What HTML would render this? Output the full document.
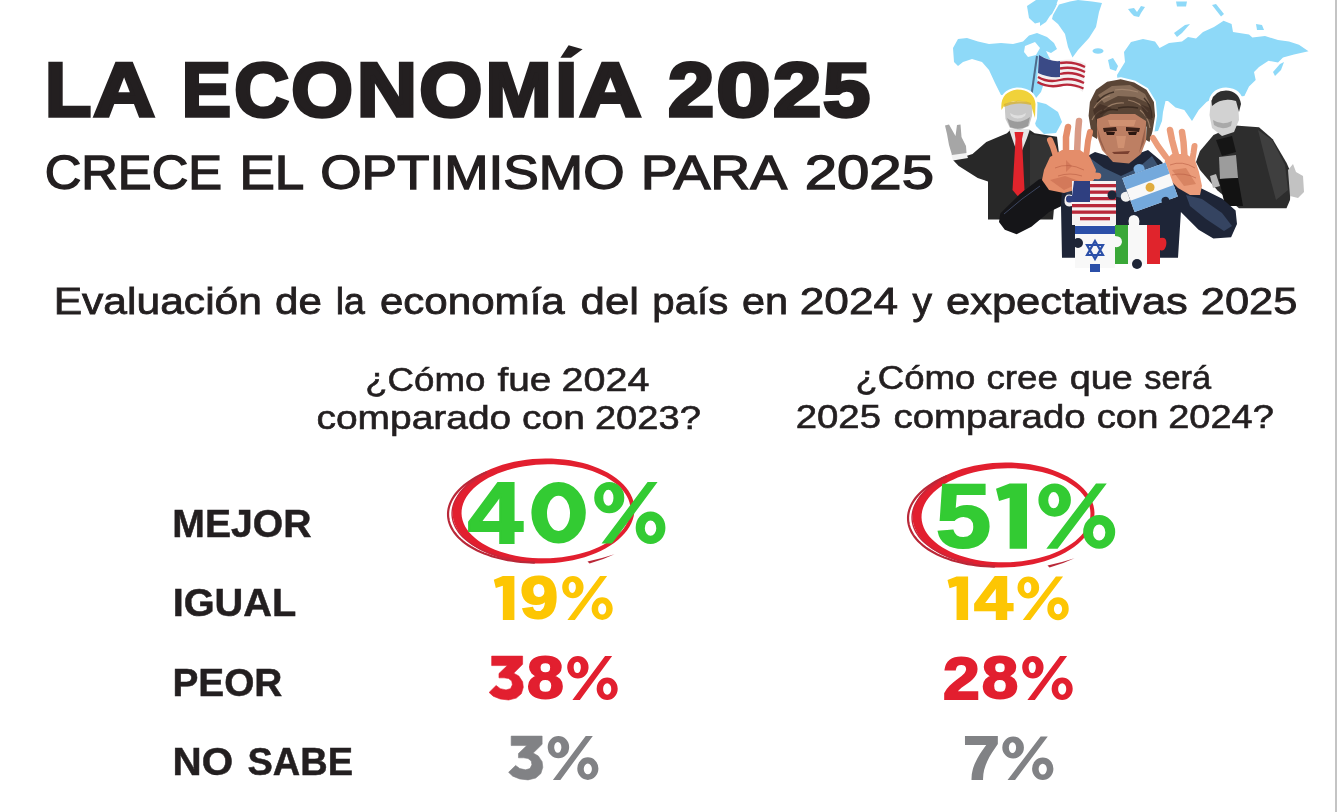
<!DOCTYPE html>
<html><head><meta charset="utf-8"><title>La Economía 2025</title>
<style>
html,body{margin:0;padding:0;background:#fff;}
body{width:1337px;height:812px;overflow:hidden;font-family:"Liberation Sans", sans-serif;}
svg{display:block;will-change:transform;}
</style></head><body>
<svg width="1337" height="812" viewBox="0 0 1337 812" font-family="Liberation Sans, sans-serif">
<rect width="1337" height="812" fill="#fff"/>
<g id="map" fill="#8ed9f8">
<!-- North America -->
<path d="M953,48 L958,39 L967,38 L978,41.5 L989,44 L1001,43 L1013,44 L1023,41.5 L1029,35.5 L1037,33 L1047,37 L1054,43 L1057,49 L1051,53 L1046,51 L1049,57 L1052,62 L1050,70 L1047,78 L1043,86 L1041,92 L1036,98 L1030,103 L1020,100 L1008,96 L1001,95 L995,83 L989,70 L982,62 L972,59 L963,62 L958,66 L954,62 Z"/>
<!-- Arctic islands -->
<path d="M1027,6 L1036,0 L1049,0 L1057,4 L1052,14 L1041,22 L1035,23.5 L1029,18 Z"/>
<path d="M1040,0 L1058,0 L1055,8 L1046,22 L1040,26 Z"/>
<!-- Greenland -->
<path d="M1053,15 L1059,4.5 L1070,1.5 L1078,0 L1092,1.5 L1102,3 L1099,12 L1096,27 L1089,38 L1078,50 L1072.5,57.5 L1068,47 L1065,34 L1058,24 L1052,19 Z"/>
<!-- Iceland -->
<ellipse cx="1098" cy="51" rx="5.5" ry="2.8"/>
<!-- UK -->
<path d="M1108,60 L1113,58 L1118,66 L1116,71 L1110,69 Z"/>
<!-- Small arctic islands -->
<path d="M1128,9 L1134,8 L1137,12 L1141,6 L1145,7 L1141,13 L1139,17 L1134,16 L1131,13 Z"/>
<path d="M1176,1.5 L1187,1.5 L1186,6.5 L1177,6.5 Z"/>
<path d="M1212,5 L1216,4 L1224,14 L1221,16.5 Z"/>
<path d="M1256,24 L1262,25 L1264,30 L1257,30 Z"/>
<path d="M1174,33 L1185,25 L1190,24 L1182,33 L1177,37 Z"/>
<!-- Scandinavia + Eurasia -->
<path d="M1117,75 L1125,62 L1124,52 L1131,42 L1143,39 L1155,41.5 L1159.6,48 L1169,43 L1182,41.6 L1188,37 L1196,38.4 L1203,32 L1214,27 L1223.6,20.8 L1231.6,24 L1233,32 L1249,34.4 L1252.4,37.6 L1265,36 L1278,40 L1289,41.6 L1299,44.8 L1308.5,51.2 L1294,54.4 L1283,57.6 L1278,62.4 L1268.5,60.8 L1259,67 L1254,72 L1255.7,80 L1249,86.4 L1244.4,96 L1230,98 L1210,100 L1206.5,102 L1198.7,110 L1192,121 L1184.3,110 L1175.5,107.6 L1168,101 L1165.5,101 L1163,112 L1162,121 L1158,131 L1150,132 L1145,104 L1140,96 L1125,90 L1118,84 Z"/>
<!-- Japan -->
<path d="M1273,72 L1280,64 L1284,62 L1281,70 L1275,76 Z"/>
<!-- Africa visible bit right of Milei head -->
<!-- South America / Caribbean bits near Trump -->
<path d="M1030,100 L1046,104 L1058,112 L1062,122 L1056,133 L1044,134 L1036,126 L1032,114 Z"/>
</g>
<path fill="#fff" d="M1025,46 L1035,42 L1040,48 L1036,55 L1028,57 L1024,52 Z"/>

<!-- US flag on pole -->
<g id="usflag">
<path d="M1037,56 L1031,98" stroke="#4f6c8c" stroke-width="2" fill="none"/>
<path fill="#f4f0f0" d="M1039,55 Q1050,62 1062,60 Q1075,58 1086,64 L1083,92 Q1072,84 1060,86 Q1047,88 1037,80 Z"/>
<g fill="none" stroke="#b8283a" stroke-width="2.3">
<path d="M1060,63 Q1073,61 1085,67"/>
<path d="M1060,68.5 Q1073,66 1085,72"/>
<path d="M1060,74 Q1072,71 1084.5,77"/>
<path d="M1038,77 Q1048,83 1060,80 Q1072,77 1084,83"/>
<path d="M1037.5,82 Q1048,88 1060,85.5 Q1071,83 1083.5,88.5"/>
</g>
<path fill="#3a4a86" d="M1039,55 Q1050,62 1060,61 L1060,77 Q1048,78 1038,73 Z"/>
</g>

<!-- Trump -->
<g id="trump">
<path fill="#fff" stroke="#fff" stroke-width="4" stroke-linejoin="round" d="M1001.5,110 Q999.5,92 1017,89.5 Q1034,90 1035.5,104 L1035,118 L1032,126 L1029,131 L1010,131 L1004,122 Z"/>
<path fill="#282828" d="M967,155.7 L972.5,154 L986.3,141.9 L1007,133.3 L1010.4,129.8 L1029.4,129.8 L1034.6,133.3 L1057,136.7 L1059,154 L1056,185 L1053,219.5 L988,219.5 L988,181.6 L977.7,178.1 L958.7,166 L953,160 Z"/>
<path fill="#3a3a3a" d="M1030,134 L1050,138 L1052,170 L1040,200 L1030,190 Z" opacity="0.6"/>
<!-- shirt -->
<path fill="#e6e6e6" d="M1009,129 L1030,129 L1027,138 L1019,158 L1012,138 Z"/>
<!-- tie -->
<path fill="#e0242c" d="M1014.5,132 L1023.5,132 L1022,139 L1024.5,190 L1018.5,197 L1012.5,190 L1015.5,139 Z"/>
<!-- cuff and hand -->
<path fill="#f2f2f2" d="M951,154 L966,152.5 L968,158 L953,160.5 Z"/>
<path fill="#a6a6a6" d="M945,125.5 L949,124.5 L955.5,136 L957,125 L960.5,124.5 L961.5,137 L966,146 L966.5,153 L952,155 L949,145 L947,134 Z"/>
<!-- face -->
<path fill="#c9c9c9" d="M1004.5,102 L1032.5,102 L1032,116 L1029,126 L1020,130 L1010,128 L1005.5,119 Z"/>
<path fill="#7d7d7d" d="M1007,118 Q1018,126 1030,117 L1028,126 Q1019,131 1010,127 Z" opacity="0.6"/>
<path fill="#e8e8e8" d="M1010,113 Q1018,118 1026,113 L1025,116 Q1018,121 1011,116 Z" opacity="0.7"/>
<!-- hat -->
<path fill="#f0d23a" d="M1001.5,110 Q999.5,92 1017,89.5 Q1034,90 1035.5,104 L1035,118 L1032.5,110 L1031,104 Q1026,101 1018,101 Q1008,101 1004,106 Z"/>
<path fill="#d8b020" d="M1004,104 Q1018,98 1031,103 L1031,105 Q1018,101 1004,107 Z" opacity="0.7"/>
</g>

<!-- Musk -->
<g id="musk">
<path fill="#fff" stroke="#fff" stroke-width="4" stroke-linejoin="round" d="M1211,100 Q1214,90 1226,89.5 Q1240,90 1242,104 L1240,120 L1245,126 L1214,136 L1209.5,115 Z"/>
<path fill="#2d2d2d" d="M1213.5,135 L1235,125.4 L1259,127.3 L1272.7,139.2 L1286.5,162.8 L1291,173 L1290,200 L1286.5,208.2 L1239,208.2 L1217.5,190.4 L1200,170 L1196,162 L1200,151 Z"/>
<path fill="#474747" d="M1258,130 L1272,140 L1285,165 L1288,190 L1276,200 L1268,170 Z" opacity="0.7"/>
<path fill="#9c9c9c" d="M1219,157 L1236,155 L1238,178 L1220,179 Z"/>
<path fill="#121212" d="M1219,179 L1238,178 L1243,206 L1225,206 Z"/>
<path fill="#151515" d="M1216,140 L1232,136 L1236,152 L1222,156 Z"/>
<path fill="#c2c2c2" d="M1288,170 L1293,164 L1296,172 L1303,176 L1304,192 L1298,198 L1290,196 Z"/>
<path fill="#b8b8b8" d="M1210,176 L1216,174 L1220,186 L1213,188 Z"/>
<!-- face -->
<path fill="#d2d2d2" d="M1211,100 L1238,100 L1239,120 L1234,132 L1222,136 L1212,128 L1209.5,115 Z"/>
<path fill="#8e8e8e" d="M1213,120 Q1222,126 1232,121 L1231,126 Q1222,131 1214,125 Z" opacity="0.6"/>
<path fill="#2f2f2f" d="M1211.5,101 Q1214,91 1226,90.5 Q1239,91 1241,104 L1239,112 L1236,101 Q1222,97 1212,106 Z"/>
</g>

<!-- Milei -->
<g id="milei">
<!-- body jacket -->
<path fill="#1e2537" d="M1045,178 L1062,170 L1080,160 L1095,152 L1121,160 L1148,150 L1160,160 L1175,175 L1198.6,187 L1222.3,198.8 L1235.6,210.6 L1237,223.9 L1231.1,237.2 L1213.4,238.6 L1198.6,229.8 L1180.9,212 L1178,257.8 L1062,257.8 L1061,206.2 L1061,190 Z"/>
<!-- left sleeve -->
<path fill="#151518" d="M1000.3,213.5 L1019.6,194.3 L1038.8,179.6 L1048,177 L1062,188 L1061,206.2 L1049.1,212 L1031.4,226.8 L1016.6,234.2 L1004.8,229.8 L999,222 Z"/>
<path fill="none" stroke="#3c4660" stroke-width="1" d="M1004,214 L1022,199 L1040,186"/>
<!-- shirt -->
<path fill="#3e5878" d="M1090,158 L1104,168 L1121,176 L1138,168 L1152,156 L1162,172 L1152,190 L1121,198 L1094,190 L1084,172 Z" opacity="0.9"/>
<!-- right sleeve highlights -->
<path fill="#3a4a68" d="M1186,195 L1202,199 L1222,213 L1232,226 L1224,231 L1206,219 L1190,206 Z" opacity="0.85"/>
<path fill="#34405a" d="M1070,175 L1085,185 L1080,200 L1066,195 Z" opacity="0.7"/>
<!-- hair -->
<path fill="#fff" stroke="#fff" stroke-width="4" stroke-linejoin="round" d="M1088.6,115.7 L1089.9,102.1 L1096,89.8 L1107.1,81.8 L1120.7,79.3 L1134.2,82.4 L1146.5,89.8 L1153.9,102.1 L1155.1,115.7 L1152.7,130.4 L1149,141.5 L1098,141 Z"/>
<path fill="#5a4536" d="M1088.6,115.7 L1089.9,102.1 L1096,89.8 L1107.1,81.8 L1120.7,79.3 L1134.2,82.4 L1146.5,89.8 L1153.9,102.1 L1155.1,115.7 L1152.7,130.4 L1149.5,142 L1146,140 L1146.5,126.7 L1136.7,119.3 L1123.1,117.5 L1110.8,120.6 L1098.5,128 L1097,139 L1092,136 Z"/>
<path fill="#9a7f68" d="M1098,95 L1112,86 L1130,85 L1145,94 L1150,104 L1135,97 L1118,96 L1104,103 Z" opacity="0.7"/>
<path fill="none" stroke="#a88a72" stroke-width="1.2" opacity="0.8" d="M1094,108 Q1100,98 1110,96 M1104,110 Q1112,102 1124,103 M1128,100 Q1140,102 1148,112 M1115,90 Q1125,88 1138,92 M1092,120 Q1096,112 1102,110 M1140,110 Q1148,116 1150,128"/>
<path fill="none" stroke="#33241b" stroke-width="1.3" opacity="0.8" d="M1097,102 Q1104,94 1114,92 M1118,108 Q1128,106 1138,108 M1100,114 Q1108,108 1118,110 M1144,98 Q1152,106 1152,118"/>
<path fill="#3e2c22" d="M1093,110 L1100,104 L1112,108 L1104,114 L1097,124 Z M1140,104 L1150,108 L1152,120 L1146,118 Z" opacity="0.7"/>
<!-- face -->
<path fill="#bd7f63" d="M1097,119 L1110,114 L1135,114 L1146,121 L1146,141 L1141,154 L1129,163.6 L1113,162 L1102,150 L1097,136 Z"/>
<path fill="#8d5744" d="M1097,126 L1101,140 L1106,152 L1113,160 L1104,150 L1099,140 Z M1146,124 L1144,142 L1139,153 L1142,140 Z" opacity="0.8"/>
<path fill="#d89878" d="M1116,136 L1126,136 L1124,148 L1118,148 Z M1108,120 L1136,120 L1134,126 L1110,126 Z" opacity="0.7"/>
<path fill="#3a2018" d="M1103,128 L1116,127 L1117,131 L1104,132 Z M1126,127 L1140,128 L1139,132 L1126,131 Z"/>
<path fill="#2a1610" d="M1106,132 L1115,132 L1114,135 L1107,135 Z M1128,132 L1137,132 L1136,135 L1129,135 Z"/>
<path fill="#7a4030" d="M1112,152 L1130,151 L1128,154 L1114,154 Z"/>
<!-- left hand -->
<g stroke="#e48d6a" stroke-linecap="round" fill="none">
<path stroke-width="6" d="M1057,160 L1053,147 L1050,140"/>
<path stroke-width="6.5" d="M1066,154 L1066,137 L1068,127"/>
<path stroke-width="6.5" stroke="#d99a86" d="M1077,154 L1078,132 L1079,121"/>
<path stroke-width="6" d="M1086,158 L1088,141 L1090,132"/>
<path stroke-width="6.5" d="M1084,173 L1092,175.5 L1098,176"/>
</g>
<path fill="#e48d6a" d="M1044,170 L1050,157 L1062,150 L1080,150 L1090,157 L1096,170 L1094,180 L1082,188 L1064,193 L1049,190 L1042,180 Z"/>
<path fill="#c46a4c" d="M1050,180 L1065,176 L1082,182 L1064,190 Z M1066,160 L1072,166 L1066,172 Z" opacity="0.55"/>
<path fill="none" stroke="#b55a40" stroke-width="0.8" d="M1055,168 Q1068,162 1084,170 M1058,176 Q1070,172 1082,176" opacity="0.7"/>
<!-- right hand -->
<g stroke="#eb9c7a" stroke-linecap="round" fill="none">
<path stroke-width="6" d="M1166,157 L1158,146 L1153,138"/>
<path stroke-width="6.5" d="M1176,155 L1172,140 L1170,130"/>
<path stroke-width="6.5" d="M1184.5,157 L1183.5,142 L1182,132"/>
<path stroke-width="6" d="M1192,162 L1193.5,153 L1194.5,146"/>
</g>
<path fill="#eb9c7a" d="M1165,160 L1172,154 L1186,154 L1195,160 L1199,172 L1202,186 L1200,195 L1190,195 L1178,188 L1168,178 L1164,168 Z"/>
<path fill="#c8714f" d="M1172,170 L1186,168 L1196,184 L1184,186 Z" opacity="0.55"/>
<path fill="none" stroke="#b55a40" stroke-width="0.8" d="M1170,165 Q1182,160 1195,168 M1172,175 Q1184,172 1196,178" opacity="0.7"/>
</g>

<!-- puzzle pieces -->
<g id="puzzles">
<!-- USA -->
<path fill="#f6f2f2" d="M1072,181 L1116,181 L1116,225 L1072,225 L1072,206 Q1064,208 1064.5,200 Q1065,193 1072,195 Z"/>
<g fill="#b8283a">
<rect x="1090" y="184" width="26" height="3.3"/>
<rect x="1090" y="190.5" width="26" height="3.3"/>
<rect x="1090" y="197" width="26" height="3.3"/>
<rect x="1072" y="204" width="44" height="3.3"/>
<rect x="1072" y="210.5" width="44" height="3.3"/>
<rect x="1080" y="217" width="30" height="3.3"/>
</g>
<path fill="#2f3f80" d="M1074,181 L1090,181 L1090,202 L1072,202 Q1066,204 1066,199 Q1066,194 1072,196 Z"/>
<circle cx="1112" cy="195" r="4.5" fill="#1e2537"/>
<!-- Argentina -->
<g transform="rotate(-20 1151 187)">
<path fill="#f8f8f8" d="M1127,169 L1173,169 L1173,205 L1127,205 Z"/>
<path fill="#74a9dc" d="M1127,169 L1173,169 L1173,181 L1127,181 Z M1127,193 L1173,193 L1173,205 L1127,205 Z"/>
<circle cx="1150" cy="187" r="4.5" fill="#e0ac3e"/>
<path fill="#74a9dc" d="M1141,169 Q1139,161 1146,161 Q1153,162 1151,169 Z"/>
<path fill="#f2f2f2" d="M1127,183 Q1119,181 1119,188 Q1120,194 1127,192 Z"/>
<circle cx="1160" cy="205" r="4" fill="#1e2537"/>
</g>
<!-- Israel -->
<path fill="#f8f8f8" d="M1075,225 L1115,225 L1115,268 L1075,268 Z"/>
<rect x="1075" y="226" width="40" height="8" fill="#2b4fa8"/>
<path fill="none" stroke="#2b4fa8" stroke-width="2.2" d="M1095,241 L1103,255 L1087,255 Z M1095,259 L1087,245 L1103,245 Z"/>
<rect x="1090" y="264" width="10" height="8" fill="#2b4fa8"/>
<circle cx="1078" cy="243" r="5" fill="#1e2537"/>
<!-- Italy -->
<path fill="#f8f8f8" d="M1115,225 L1160,225 L1160,264 L1115,264 Z"/>
<path fill="#f8f8f8" d="M1129,225 Q1127,215 1134,215 Q1141,216 1139,225 Z"/>
<path fill="#3aa838" d="M1115,225 L1128,225 L1128,264 L1115,264 Z"/>
<path fill="#e0242c" d="M1147,225 L1160,225 L1160,238 Q1168,236 1166,246 Q1164,252 1160,250 L1160,264 L1147,264 Z"/>
<circle cx="1137" cy="264" r="5" fill="#1e2537"/>
<path fill="#f8f8f8" d="M1115,236 Q1122,236 1122,242 Q1121,248 1115,247 Z"/>
</g>

<g transform="translate(543.5 511)"><path fill="#e21f2f" fill-rule="evenodd" d="M90.97,-2.38 L90.84,1.28 L90.27,4.95 L89.27,8.58 L87.82,12.18 L85.95,15.71 L83.66,19.17 L80.97,22.54 L77.87,25.79 L74.40,28.92 L70.57,31.91 L66.39,34.74 L61.89,37.41 L57.09,39.89 L52.01,42.18 L46.67,44.26 L41.11,46.13 L35.35,47.77 L29.42,49.18 L23.34,50.35 L17.15,51.27 L10.88,51.95 L4.55,52.37 L-1.80,52.53 L-8.14,52.44 L-14.44,52.10 L-20.67,51.50 L-26.80,50.65 L-32.80,49.55 L-38.64,48.21 L-44.29,46.64 L-49.73,44.84 L-54.92,42.82 L-59.85,40.60 L-64.48,38.17 L-68.80,35.56 L-72.79,32.78 L-76.42,29.83 L-79.68,26.74 L-82.55,23.52 L-85.01,20.19 L-87.07,16.76 L-88.70,13.24 L-89.89,9.66 L-90.65,6.04 L-90.97,2.38 L-90.84,-1.28 L-90.27,-4.95 L-89.27,-8.58 L-87.82,-12.18 L-85.95,-15.71 L-83.66,-19.17 L-80.97,-22.54 L-77.87,-25.79 L-74.40,-28.92 L-70.57,-31.91 L-66.39,-34.74 L-61.89,-37.41 L-57.09,-39.89 L-52.01,-42.18 L-46.67,-44.26 L-41.11,-46.13 L-35.35,-47.77 L-29.42,-49.18 L-23.34,-50.35 L-17.15,-51.27 L-10.88,-51.95 L-4.55,-52.37 L1.80,-52.53 L8.14,-52.44 L14.44,-52.10 L20.67,-51.50 L26.80,-50.65 L32.80,-49.55 L38.64,-48.21 L44.29,-46.64 L49.73,-44.84 L54.92,-42.82 L59.85,-40.60 L64.48,-38.17 L68.80,-35.56 L72.79,-32.78 L76.42,-29.83 L79.68,-26.74 L82.55,-23.52 L85.01,-20.19 L87.07,-16.76 L88.70,-13.24 L89.89,-9.66 L90.65,-6.04 L90.97,-2.38ZM86.97,-1.91 L86.85,1.37 L86.32,4.65 L85.38,7.90 L84.04,11.12 L82.30,14.29 L80.17,17.39 L77.66,20.40 L74.79,23.32 L71.56,26.13 L68.00,28.81 L64.12,31.35 L59.94,33.74 L55.48,35.96 L50.76,38.01 L45.80,39.88 L40.64,41.56 L35.28,43.03 L29.77,44.30 L24.13,45.35 L18.38,46.19 L12.55,46.80 L6.68,47.18 L0.78,47.33 L-5.11,47.26 L-10.96,46.95 L-16.74,46.42 L-22.43,45.67 L-28.00,44.69 L-33.42,43.50 L-38.67,42.10 L-43.72,40.49 L-48.54,38.69 L-53.11,36.70 L-57.41,34.53 L-61.42,32.20 L-65.12,29.71 L-68.48,27.07 L-71.51,24.31 L-74.17,21.43 L-76.46,18.45 L-78.36,15.38 L-79.87,12.23 L-80.98,9.03 L-81.68,5.78 L-81.97,2.51 L-81.85,-0.77 L-81.32,-4.05 L-80.38,-7.30 L-79.04,-10.52 L-77.30,-13.69 L-75.17,-16.79 L-72.66,-19.80 L-69.79,-22.72 L-66.56,-25.53 L-63.00,-28.21 L-59.12,-30.75 L-54.94,-33.14 L-50.48,-35.36 L-45.76,-37.41 L-40.80,-39.28 L-35.64,-40.96 L-30.28,-42.43 L-24.77,-43.70 L-19.13,-44.75 L-13.38,-45.59 L-7.55,-46.20 L-1.68,-46.58 L4.22,-46.73 L10.11,-46.66 L15.96,-46.35 L21.74,-45.82 L27.43,-45.07 L33.00,-44.09 L38.42,-42.90 L43.67,-41.50 L48.72,-39.89 L53.54,-38.09 L58.11,-36.10 L62.41,-33.93 L66.42,-31.60 L70.12,-29.11 L73.48,-26.47 L76.51,-23.71 L79.17,-20.83 L81.46,-17.85 L83.36,-14.78 L84.87,-11.63 L85.98,-8.43 L86.68,-5.18 L86.97,-1.91Z"/><path fill="none" stroke="#b92838" stroke-width="2.2" stroke-linecap="round" d="M-57.47,-38.49 L-61.05,-36.90 L-64.50,-35.22 L-67.80,-33.45 L-70.94,-31.60 L-73.92,-29.67 L-76.74,-27.67 L-79.37,-25.60 L-81.83,-23.47 L-84.10,-21.28 L-86.17,-19.04 L-88.04,-16.74 L-89.71,-14.41 L-91.18,-12.04 L-92.43,-9.64 L-93.47,-7.21 L-94.29,-4.76 L-94.90,-2.30 L-95.29,0.17 L-95.45,2.64 L-95.40,5.11 L-95.12,7.57 L-94.63,10.01 L-93.91,12.43 L-92.98,14.82 L-91.84,17.18 L-90.48,19.50 L-88.91,21.78 L-87.14,24.01 L-85.17,26.18 L-83.00,28.29 L-80.64,30.34 L-78.09,32.32 L-75.37,34.22 L-72.47,36.04 L-69.41,37.78 L-66.18,39.43 L-62.81,40.99 L-59.30,42.46 L-55.65,43.82 L-51.87,45.09 L-47.98,46.24 L-43.98,47.29 L-39.88,48.23 L-35.69,49.06 L-31.43,49.77 L-27.10,50.37 L-22.71,50.84 L-18.27,51.20 L-13.80,51.44 L-9.30,51.56"/><path fill="none" stroke="#c8263a" stroke-width="1.4" stroke-linecap="round" d="M-66.32,-32.26 L-69.37,-30.35 L-72.25,-28.37 L-74.94,-26.31 L-77.46,-24.19 L-79.78,-22.00 L-81.90,-19.75 L-83.83,-17.46 L-85.54,-15.12 L-87.05,-12.74 L-88.34,-10.33 L-89.41,-7.89 L-90.25,-5.43 L-90.88,-2.95 L-91.28,-0.47 L-91.45,2.02 L-91.40,4.50 L-91.12,6.98 L-90.62,9.43 L-89.89,11.87 L-88.94,14.27 L-87.77,16.64 L-86.38,18.98 L-84.78,21.26 L-82.97,23.49 L-80.95,25.66 L-78.73,27.77 L-76.32,29.82 L-73.72,31.78 L-70.94,33.67 L-67.99,35.48 L-64.86,37.20 L-61.58,38.82 L-58.14,40.35 L-54.57,41.78 L-50.86,43.10 L-47.02,44.32 L-43.07,45.43 L-39.02,46.42 L-34.87,47.30 L-30.64,48.06"/><path fill="#b92838" d="M44,50.5 Q58,47.5 71,43.2 Q60,48.5 46,52.5Z"/></g><g transform="translate(1003.5 515)"><path fill="#e21f2f" fill-rule="evenodd" d="M90.97,-2.38 L90.84,1.28 L90.27,4.95 L89.27,8.58 L87.82,12.18 L85.95,15.71 L83.66,19.17 L80.97,22.54 L77.87,25.79 L74.40,28.92 L70.57,31.91 L66.39,34.74 L61.89,37.41 L57.09,39.89 L52.01,42.18 L46.67,44.26 L41.11,46.13 L35.35,47.77 L29.42,49.18 L23.34,50.35 L17.15,51.27 L10.88,51.95 L4.55,52.37 L-1.80,52.53 L-8.14,52.44 L-14.44,52.10 L-20.67,51.50 L-26.80,50.65 L-32.80,49.55 L-38.64,48.21 L-44.29,46.64 L-49.73,44.84 L-54.92,42.82 L-59.85,40.60 L-64.48,38.17 L-68.80,35.56 L-72.79,32.78 L-76.42,29.83 L-79.68,26.74 L-82.55,23.52 L-85.01,20.19 L-87.07,16.76 L-88.70,13.24 L-89.89,9.66 L-90.65,6.04 L-90.97,2.38 L-90.84,-1.28 L-90.27,-4.95 L-89.27,-8.58 L-87.82,-12.18 L-85.95,-15.71 L-83.66,-19.17 L-80.97,-22.54 L-77.87,-25.79 L-74.40,-28.92 L-70.57,-31.91 L-66.39,-34.74 L-61.89,-37.41 L-57.09,-39.89 L-52.01,-42.18 L-46.67,-44.26 L-41.11,-46.13 L-35.35,-47.77 L-29.42,-49.18 L-23.34,-50.35 L-17.15,-51.27 L-10.88,-51.95 L-4.55,-52.37 L1.80,-52.53 L8.14,-52.44 L14.44,-52.10 L20.67,-51.50 L26.80,-50.65 L32.80,-49.55 L38.64,-48.21 L44.29,-46.64 L49.73,-44.84 L54.92,-42.82 L59.85,-40.60 L64.48,-38.17 L68.80,-35.56 L72.79,-32.78 L76.42,-29.83 L79.68,-26.74 L82.55,-23.52 L85.01,-20.19 L87.07,-16.76 L88.70,-13.24 L89.89,-9.66 L90.65,-6.04 L90.97,-2.38ZM86.97,-1.91 L86.85,1.37 L86.32,4.65 L85.38,7.90 L84.04,11.12 L82.30,14.29 L80.17,17.39 L77.66,20.40 L74.79,23.32 L71.56,26.13 L68.00,28.81 L64.12,31.35 L59.94,33.74 L55.48,35.96 L50.76,38.01 L45.80,39.88 L40.64,41.56 L35.28,43.03 L29.77,44.30 L24.13,45.35 L18.38,46.19 L12.55,46.80 L6.68,47.18 L0.78,47.33 L-5.11,47.26 L-10.96,46.95 L-16.74,46.42 L-22.43,45.67 L-28.00,44.69 L-33.42,43.50 L-38.67,42.10 L-43.72,40.49 L-48.54,38.69 L-53.11,36.70 L-57.41,34.53 L-61.42,32.20 L-65.12,29.71 L-68.48,27.07 L-71.51,24.31 L-74.17,21.43 L-76.46,18.45 L-78.36,15.38 L-79.87,12.23 L-80.98,9.03 L-81.68,5.78 L-81.97,2.51 L-81.85,-0.77 L-81.32,-4.05 L-80.38,-7.30 L-79.04,-10.52 L-77.30,-13.69 L-75.17,-16.79 L-72.66,-19.80 L-69.79,-22.72 L-66.56,-25.53 L-63.00,-28.21 L-59.12,-30.75 L-54.94,-33.14 L-50.48,-35.36 L-45.76,-37.41 L-40.80,-39.28 L-35.64,-40.96 L-30.28,-42.43 L-24.77,-43.70 L-19.13,-44.75 L-13.38,-45.59 L-7.55,-46.20 L-1.68,-46.58 L4.22,-46.73 L10.11,-46.66 L15.96,-46.35 L21.74,-45.82 L27.43,-45.07 L33.00,-44.09 L38.42,-42.90 L43.67,-41.50 L48.72,-39.89 L53.54,-38.09 L58.11,-36.10 L62.41,-33.93 L66.42,-31.60 L70.12,-29.11 L73.48,-26.47 L76.51,-23.71 L79.17,-20.83 L81.46,-17.85 L83.36,-14.78 L84.87,-11.63 L85.98,-8.43 L86.68,-5.18 L86.97,-1.91Z"/><path fill="none" stroke="#b92838" stroke-width="2.2" stroke-linecap="round" d="M-57.47,-38.49 L-61.05,-36.90 L-64.50,-35.22 L-67.80,-33.45 L-70.94,-31.60 L-73.92,-29.67 L-76.74,-27.67 L-79.37,-25.60 L-81.83,-23.47 L-84.10,-21.28 L-86.17,-19.04 L-88.04,-16.74 L-89.71,-14.41 L-91.18,-12.04 L-92.43,-9.64 L-93.47,-7.21 L-94.29,-4.76 L-94.90,-2.30 L-95.29,0.17 L-95.45,2.64 L-95.40,5.11 L-95.12,7.57 L-94.63,10.01 L-93.91,12.43 L-92.98,14.82 L-91.84,17.18 L-90.48,19.50 L-88.91,21.78 L-87.14,24.01 L-85.17,26.18 L-83.00,28.29 L-80.64,30.34 L-78.09,32.32 L-75.37,34.22 L-72.47,36.04 L-69.41,37.78 L-66.18,39.43 L-62.81,40.99 L-59.30,42.46 L-55.65,43.82 L-51.87,45.09 L-47.98,46.24 L-43.98,47.29 L-39.88,48.23 L-35.69,49.06 L-31.43,49.77 L-27.10,50.37 L-22.71,50.84 L-18.27,51.20 L-13.80,51.44 L-9.30,51.56"/><path fill="none" stroke="#c8263a" stroke-width="1.4" stroke-linecap="round" d="M-66.32,-32.26 L-69.37,-30.35 L-72.25,-28.37 L-74.94,-26.31 L-77.46,-24.19 L-79.78,-22.00 L-81.90,-19.75 L-83.83,-17.46 L-85.54,-15.12 L-87.05,-12.74 L-88.34,-10.33 L-89.41,-7.89 L-90.25,-5.43 L-90.88,-2.95 L-91.28,-0.47 L-91.45,2.02 L-91.40,4.50 L-91.12,6.98 L-90.62,9.43 L-89.89,11.87 L-88.94,14.27 L-87.77,16.64 L-86.38,18.98 L-84.78,21.26 L-82.97,23.49 L-80.95,25.66 L-78.73,27.77 L-76.32,29.82 L-73.72,31.78 L-70.94,33.67 L-67.99,35.48 L-64.86,37.20 L-61.58,38.82 L-58.14,40.35 L-54.57,41.78 L-50.86,43.10 L-47.02,44.32 L-43.07,45.43 L-39.02,46.42 L-34.87,47.30 L-30.64,48.06"/><path fill="#b92838" d="M44,50.5 Q58,47.5 71,43.2 Q60,48.5 46,52.5Z"/></g>
<text transform="translate(44.94 116.25) scale(0.9925 1)" font-size="76.31" font-weight="bold" fill="#231f20" stroke="#231f20" stroke-width="3.500" stroke-linejoin="miter">L</text>
<text transform="translate(93.34 116.25) scale(1.1203 1)" font-size="76.31" font-weight="bold" fill="#231f20" stroke="#231f20" stroke-width="3.500" stroke-linejoin="miter">A</text>
<text transform="translate(181.82 116.25) scale(0.9680 1)" font-size="76.31" font-weight="bold" fill="#231f20" stroke="#231f20" stroke-width="3.500" stroke-linejoin="miter">E</text>
<text transform="translate(234.15 116.25) scale(0.9953 1)" font-size="76.31" font-weight="bold" fill="#231f20" stroke="#231f20" stroke-width="3.500" stroke-linejoin="miter">C</text>
<text transform="translate(291.19 116.25) scale(1.0397 1)" font-size="76.31" font-weight="bold" fill="#231f20" stroke="#231f20" stroke-width="3.500" stroke-linejoin="miter">O</text>
<text transform="translate(356.80 116.25) scale(1.0957 1)" font-size="76.31" font-weight="bold" fill="#231f20" stroke="#231f20" stroke-width="3.500" stroke-linejoin="miter">N</text>
<text transform="translate(419.25 116.25) scale(1.0645 1)" font-size="76.31" font-weight="bold" fill="#231f20" stroke="#231f20" stroke-width="3.500" stroke-linejoin="miter">O</text>
<text transform="translate(485.58 116.25) scale(1.0401 1)" font-size="76.31" font-weight="bold" fill="#231f20" stroke="#231f20" stroke-width="3.500" stroke-linejoin="miter">M</text>
<text transform="translate(555.17 116.25) scale(1.0422 1)" font-size="76.31" font-weight="bold" fill="#231f20" stroke="#231f20" stroke-width="3.500" stroke-linejoin="miter">I</text>
<text transform="translate(579.34 116.25) scale(1.1277 1)" font-size="76.31" font-weight="bold" fill="#231f20" stroke="#231f20" stroke-width="3.500" stroke-linejoin="miter">A</text>
<text transform="translate(667.88 116.25) scale(1.0874 1)" font-size="76.31" font-weight="bold" fill="#231f20" stroke="#231f20" stroke-width="3.500" stroke-linejoin="miter">2</text>
<text transform="translate(716.13 116.25) scale(1.2807 1)" font-size="76.31" font-weight="bold" fill="#231f20" stroke="#231f20" stroke-width="3.500" stroke-linejoin="miter">0</text>
<text transform="translate(773.04 116.25) scale(1.1395 1)" font-size="76.31" font-weight="bold" fill="#231f20" stroke="#231f20" stroke-width="3.500" stroke-linejoin="miter">2</text>
<text transform="translate(823.03 116.25) scale(1.1125 1)" font-size="76.31" font-weight="bold" fill="#231f20" stroke="#231f20" stroke-width="3.500" stroke-linejoin="miter">5</text>
<path fill="#231f20" d="M560.4,57.7 L568.6,45.3 L582.6,49.3 L571,57.7Z"/>
<text transform="translate(44.69 188.80) scale(1.0373 1)" font-size="48.84" font-weight="normal" fill="#231f20" stroke="#231f20" stroke-width="1.400" stroke-linejoin="miter">CRECE</text>
<text transform="translate(239.42 188.80) scale(1.0845 1)" font-size="48.84" font-weight="normal" fill="#231f20" stroke="#231f20" stroke-width="1.400" stroke-linejoin="miter">EL</text>
<text transform="translate(320.21 188.80) scale(1.0892 1)" font-size="48.84" font-weight="normal" fill="#231f20" stroke="#231f20" stroke-width="1.400" stroke-linejoin="miter">OPTIMISMO</text>
<text transform="translate(640.65 188.80) scale(1.1333 1)" font-size="48.84" font-weight="normal" fill="#231f20" stroke="#231f20" stroke-width="1.400" stroke-linejoin="miter">PARA</text>
<text transform="translate(804.73 188.80) scale(1.1903 1)" font-size="48.84" font-weight="normal" fill="#231f20" stroke="#231f20" stroke-width="1.400" stroke-linejoin="miter">2025</text>
<text transform="translate(53.66 314.10) scale(1.1274 1)" font-size="37.79" font-weight="normal" fill="#231f20" stroke="#231f20" stroke-width="0.800" stroke-linejoin="miter">Evaluación</text>
<text transform="translate(274.98 314.10) scale(1.1144 1)" font-size="37.79" font-weight="normal" fill="#231f20" stroke="#231f20" stroke-width="0.800" stroke-linejoin="miter">de</text>
<text transform="translate(335.75 314.10) scale(0.9916 1)" font-size="37.79" font-weight="normal" fill="#231f20" stroke="#231f20" stroke-width="0.800" stroke-linejoin="miter">la</text>
<text transform="translate(379.88 314.10) scale(1.1139 1)" font-size="37.79" font-weight="normal" fill="#231f20" stroke="#231f20" stroke-width="0.800" stroke-linejoin="miter">economía</text>
<text transform="translate(580.62 314.10) scale(1.1585 1)" font-size="37.79" font-weight="normal" fill="#231f20" stroke="#231f20" stroke-width="0.800" stroke-linejoin="miter">del</text>
<text transform="translate(652.36 314.10) scale(1.0622 1)" font-size="37.79" font-weight="normal" fill="#231f20" stroke="#231f20" stroke-width="0.800" stroke-linejoin="miter">país</text>
<text transform="translate(741.90 314.10) scale(1.0974 1)" font-size="37.79" font-weight="normal" fill="#231f20" stroke="#231f20" stroke-width="0.800" stroke-linejoin="miter">en</text>
<text transform="translate(799.76 314.10) scale(1.1708 1)" font-size="37.79" font-weight="normal" fill="#231f20" stroke="#231f20" stroke-width="0.800" stroke-linejoin="miter">2024</text>
<text transform="translate(912.54 314.10) scale(1.0336 1)" font-size="37.79" font-weight="normal" fill="#231f20" stroke="#231f20" stroke-width="0.800" stroke-linejoin="miter">y</text>
<text transform="translate(945.93 314.10) scale(1.1520 1)" font-size="37.79" font-weight="normal" fill="#231f20" stroke="#231f20" stroke-width="0.800" stroke-linejoin="miter">expectativas</text>
<text transform="translate(1200.79 314.10) scale(1.1491 1)" font-size="37.79" font-weight="normal" fill="#231f20" stroke="#231f20" stroke-width="0.800" stroke-linejoin="miter">2025</text>
<text transform="translate(365.18 390.80) scale(1.0831 1)" font-size="33.87" font-weight="normal" fill="#231f20" stroke="#231f20" stroke-width="0.600" stroke-linejoin="miter">¿Cómo</text>
<text transform="translate(497.40 390.80) scale(1.1464 1)" font-size="33.87" font-weight="normal" fill="#231f20" stroke="#231f20" stroke-width="0.600" stroke-linejoin="miter">fue</text>
<text transform="translate(561.58 390.80) scale(1.1652 1)" font-size="33.87" font-weight="normal" fill="#231f20" stroke="#231f20" stroke-width="0.600" stroke-linejoin="miter">2024</text>
<text transform="translate(316.41 429.20) scale(1.1554 1)" font-size="33.72" font-weight="normal" fill="#231f20" stroke="#231f20" stroke-width="0.600" stroke-linejoin="miter">comparado</text>
<text transform="translate(522.11 429.20) scale(1.1560 1)" font-size="33.72" font-weight="normal" fill="#231f20" stroke="#231f20" stroke-width="0.600" stroke-linejoin="miter">con</text>
<text transform="translate(594.93 429.20) scale(1.1297 1)" font-size="33.72" font-weight="normal" fill="#231f20" stroke="#231f20" stroke-width="0.600" stroke-linejoin="miter">2023?</text>
<text transform="translate(855.49 389.30) scale(1.1039 1)" font-size="33.14" font-weight="normal" fill="#231f20" stroke="#231f20" stroke-width="0.600" stroke-linejoin="miter">¿Cómo</text>
<text transform="translate(986.39 389.30) scale(1.1086 1)" font-size="33.14" font-weight="normal" fill="#231f20" stroke="#231f20" stroke-width="0.600" stroke-linejoin="miter">cree</text>
<text transform="translate(1069.65 389.30) scale(1.1409 1)" font-size="33.14" font-weight="normal" fill="#231f20" stroke="#231f20" stroke-width="0.600" stroke-linejoin="miter">que</text>
<text transform="translate(1144.25 389.30) scale(1.0380 1)" font-size="33.14" font-weight="normal" fill="#231f20" stroke="#231f20" stroke-width="0.600" stroke-linejoin="miter">será</text>
<text transform="translate(795.63 427.60) scale(1.1542 1)" font-size="33.28" font-weight="normal" fill="#231f20" stroke="#231f20" stroke-width="0.600" stroke-linejoin="miter">2025</text>
<text transform="translate(893.43 427.60) scale(1.1552 1)" font-size="33.28" font-weight="normal" fill="#231f20" stroke="#231f20" stroke-width="0.600" stroke-linejoin="miter">comparado</text>
<text transform="translate(1096.74 427.60) scale(1.1493 1)" font-size="33.28" font-weight="normal" fill="#231f20" stroke="#231f20" stroke-width="0.600" stroke-linejoin="miter">con</text>
<text transform="translate(1168.24 427.60) scale(1.1410 1)" font-size="33.28" font-weight="normal" fill="#231f20" stroke="#231f20" stroke-width="0.600" stroke-linejoin="miter">2024?</text>
<text transform="translate(172.37 537.35) scale(1.0167 1)" font-size="38.52" font-weight="bold" fill="#231f20" stroke="#231f20" stroke-width="0.500" stroke-linejoin="miter">MEJOR</text>
<text transform="translate(172.64 616.45) scale(1.0405 1)" font-size="38.23" font-weight="bold" fill="#231f20" stroke="#231f20" stroke-width="0.500" stroke-linejoin="miter">IGUAL</text>
<text transform="translate(172.39 695.65) scale(1.0157 1)" font-size="38.23" font-weight="bold" fill="#231f20" stroke="#231f20" stroke-width="0.500" stroke-linejoin="miter">PEOR</text>
<text transform="translate(172.60 774.65) scale(1.0615 1)" font-size="38.08" font-weight="bold" fill="#231f20" stroke="#231f20" stroke-width="0.500" stroke-linejoin="miter">NO</text>
<text transform="translate(247.41 774.65) scale(0.9981 1)" font-size="38.08" font-weight="bold" fill="#231f20" stroke="#231f20" stroke-width="0.500" stroke-linejoin="miter">SABE</text>
<text transform="translate(467.86 542.60) scale(0.9945 0.8663)" font-size="100.0" font-weight="bold" fill="#33cb33" stroke="#33cb33" stroke-width="2.309" stroke-linejoin="miter">4</text>
<path fill="#33cb33" fill-rule="evenodd" d="M531.40,512.80a27.20,30.80 0 1,0 54.40,0a27.20,30.80 0 1,0 -54.40,0ZM547.00,513.35a11.50,17.65 0 1,0 23.00,0a11.50,17.65 0 1,0 -23.00,0Z"/>
<path fill="#33cb33" fill-rule="evenodd" d="M594.20,497.65a15.06,15.65 0 1,0 30.12,0a15.06,15.65 0 1,0 -30.12,0ZM603.31,497.80a5.06,7.61 0 1,0 10.11,0a5.06,7.61 0 1,0 -10.11,0ZM635.71,527.74a14.85,15.86 0 1,0 29.69,0a14.85,15.86 0 1,0 -29.69,0ZM644.82,528.20a5.73,7.58 0 1,0 11.46,0a5.73,7.58 0 1,0 -11.46,0ZM647.60,482.00L657.57,482.00L612.00,543.60L601.53,543.60Z"/>
<path fill="#fdc603" d="M502.86,576.10 L514.40,576.10 L514.40,619.90 L502.86,619.90 L502.86,585.74 L495.80,587.93 L493.80,579.74Z"/>
<text transform="translate(520.34 618.31) scale(0.6790 0.5904)" font-size="100.0" font-weight="bold" fill="#fdc603" stroke="#fdc603" stroke-width="3.388" stroke-linejoin="miter">9</text>
<path fill="#fdc603" fill-rule="evenodd" d="M562.20,587.23a10.68,11.13 0 1,0 21.36,0a10.68,11.13 0 1,0 -21.36,0ZM568.66,587.33a3.59,5.41 0 1,0 7.17,0a3.59,5.41 0 1,0 -7.17,0ZM591.64,608.62a10.53,11.28 0 1,0 21.06,0a10.53,11.28 0 1,0 -21.06,0ZM598.11,608.95a4.07,5.39 0 1,0 8.13,0a4.07,5.39 0 1,0 -8.13,0ZM600.08,576.10L607.15,576.10L574.83,619.90L567.40,619.90Z"/>
<path fill="#e21f2f" stroke="#e21f2f" stroke-width="0.6" stroke-linejoin="round" d="M491.67,656.10 L522.62,656.10 L522.62,664.31 L513.69,673.13 L518.79,675.99 L522.62,681.69 L523.30,687.36 L521.35,693.68 L516.25,698.11 L508.56,700.00 L500.28,699.03 L493.24,696.22 L489.10,692.41 L496.11,685.47 L500.28,688.63 L506.03,689.90 L510.47,688.63 L512.39,684.85 L511.77,681.04 L508.56,678.53 L504.11,677.87 L498.98,677.87 L498.98,673.48 L507.29,665.58 L491.67,665.58Z"/>
<text transform="translate(527.00 698.41) scale(0.6612 0.5918)" font-size="100.0" font-weight="bold" fill="#e21f2f" stroke="#e21f2f" stroke-width="3.379" stroke-linejoin="miter">8</text>
<path fill="#e21f2f" fill-rule="evenodd" d="M567.20,667.25a10.68,11.15 0 1,0 21.36,0a10.68,11.15 0 1,0 -21.36,0ZM573.66,667.36a3.59,5.42 0 1,0 7.17,0a3.59,5.42 0 1,0 -7.17,0ZM596.64,688.70a10.53,11.30 0 1,0 21.06,0a10.53,11.30 0 1,0 -21.06,0ZM603.11,689.03a4.07,5.40 0 1,0 8.13,0a4.07,5.40 0 1,0 -8.13,0ZM605.08,656.10L612.15,656.10L579.83,700.00L572.40,700.00Z"/>
<path fill="#818285" stroke="#818285" stroke-width="0.6" stroke-linejoin="round" d="M511.17,736.10 L542.12,736.10 L542.12,744.29 L533.19,753.09 L538.29,755.94 L542.12,761.64 L542.80,767.29 L540.85,773.59 L535.75,778.02 L528.06,779.90 L519.78,778.94 L512.74,776.13 L508.60,772.32 L515.61,765.40 L519.78,768.56 L525.53,769.83 L529.98,768.56 L531.89,764.79 L531.27,760.98 L528.06,758.48 L523.61,757.82 L518.48,757.82 L518.48,753.44 L526.79,745.56 L511.17,745.56Z"/>
<path fill="#818285" fill-rule="evenodd" d="M547.70,747.23a10.72,11.13 0 1,0 21.45,0a10.72,11.13 0 1,0 -21.45,0ZM554.19,747.33a3.60,5.41 0 1,0 7.20,0a3.60,5.41 0 1,0 -7.20,0ZM577.26,768.62a10.57,11.28 0 1,0 21.14,0a10.57,11.28 0 1,0 -21.14,0ZM583.75,768.95a4.08,5.39 0 1,0 8.16,0a4.08,5.39 0 1,0 -8.16,0ZM585.73,736.10L592.82,736.10L560.38,779.90L552.92,779.90Z"/>
<text transform="translate(935.81 546.89) scale(0.9980 0.9083)" font-size="100.0" font-weight="bold" fill="#33cb33" stroke="#33cb33" stroke-width="2.202" stroke-linejoin="miter">5</text>
<path fill="#33cb33" d="M1009.64,483.40 L1027.00,483.40 L1027.00,548.80 L1009.64,548.80 L1009.64,497.79 L999.01,501.06 L996.00,488.83Z"/>
<path fill="#33cb33" fill-rule="evenodd" d="M1038.40,500.01a16.24,16.61 0 1,0 32.49,0a16.24,16.61 0 1,0 -32.49,0ZM1048.23,500.18a5.45,8.08 0 1,0 10.91,0a5.45,8.08 0 1,0 -10.91,0ZM1083.17,531.96a16.01,16.84 0 1,0 32.03,0a16.01,16.84 0 1,0 -32.03,0ZM1093.00,532.45a6.18,8.04 0 1,0 12.36,0a6.18,8.04 0 1,0 -12.36,0ZM1096.00,483.40L1106.75,483.40L1057.60,548.80L1046.31,548.80Z"/>
<path fill="#fdc603" d="M956.56,576.40 L968.10,576.40 L968.10,619.90 L956.56,619.90 L956.56,585.97 L949.50,588.14 L947.50,580.01Z"/>
<text transform="translate(974.24 618.90) scale(0.6929 0.6032)" font-size="100.0" font-weight="bold" fill="#fdc603" stroke="#fdc603" stroke-width="3.316" stroke-linejoin="miter">4</text>
<path fill="#fdc603" fill-rule="evenodd" d="M1017.50,587.45a10.83,11.05 0 1,0 21.66,0a10.83,11.05 0 1,0 -21.66,0ZM1024.05,587.56a3.64,5.37 0 1,0 7.27,0a3.64,5.37 0 1,0 -7.27,0ZM1047.35,608.70a10.68,11.20 0 1,0 21.35,0a10.68,11.20 0 1,0 -21.35,0ZM1053.90,609.02a4.12,5.35 0 1,0 8.24,0a4.12,5.35 0 1,0 -8.24,0ZM1055.90,576.40L1063.07,576.40L1030.30,619.90L1022.77,619.90Z"/>
<text transform="translate(943.05 699.00) scale(0.6617 0.6003)" font-size="100.0" font-weight="bold" fill="#e21f2f" stroke="#e21f2f" stroke-width="3.332" stroke-linejoin="miter">2</text>
<text transform="translate(981.71 698.41) scale(0.6556 0.5918)" font-size="100.0" font-weight="bold" fill="#e21f2f" stroke="#e21f2f" stroke-width="3.379" stroke-linejoin="miter">8</text>
<path fill="#e21f2f" fill-rule="evenodd" d="M1022.20,667.25a10.68,11.15 0 1,0 21.36,0a10.68,11.15 0 1,0 -21.36,0ZM1028.66,667.36a3.59,5.42 0 1,0 7.17,0a3.59,5.42 0 1,0 -7.17,0ZM1051.64,688.70a10.53,11.30 0 1,0 21.06,0a10.53,11.30 0 1,0 -21.06,0ZM1058.11,689.03a4.07,5.40 0 1,0 8.13,0a4.07,5.40 0 1,0 -8.13,0ZM1060.08,656.10L1067.14,656.10L1034.83,700.00L1027.40,700.00Z"/>
<text transform="translate(963.23 779.00) scale(0.6540 0.6047)" font-size="100.0" font-weight="bold" fill="#818285" stroke="#818285" stroke-width="3.308" stroke-linejoin="miter">7</text>
<path fill="#818285" fill-rule="evenodd" d="M1002.30,747.47a10.81,11.07 0 1,0 21.62,0a10.81,11.07 0 1,0 -21.62,0ZM1008.84,747.58a3.63,5.38 0 1,0 7.26,0a3.63,5.38 0 1,0 -7.26,0ZM1032.09,768.77a10.65,11.23 0 1,0 21.31,0a10.65,11.23 0 1,0 -21.31,0ZM1038.63,769.10a4.11,5.36 0 1,0 8.23,0a4.11,5.36 0 1,0 -8.23,0ZM1040.62,736.40L1047.78,736.40L1015.08,780.00L1007.56,780.00Z"/>
<rect x="1335" y="0" width="2" height="812" fill="#c4c4c4"/>
</svg>
</body></html>
